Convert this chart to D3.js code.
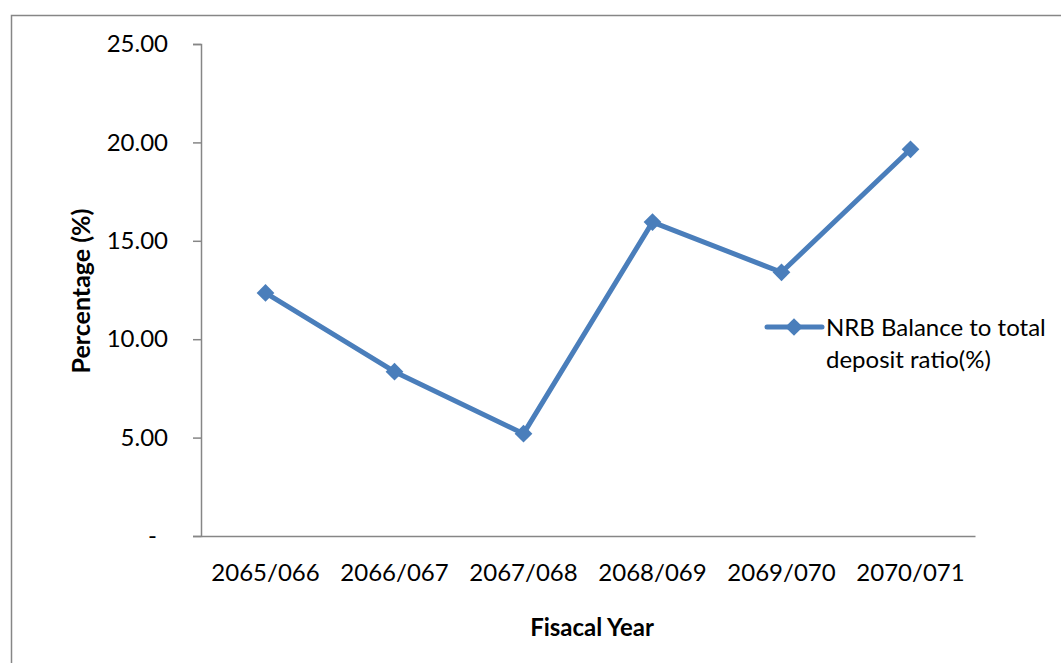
<!DOCTYPE html>
<html>
<head>
<meta charset="utf-8">
<script src="https://cdn.jsdelivr.net/npm/d3@7"></script>
<style>
  html, body { margin: 0; padding: 0; background: #fff; }
  svg { display: block; font-family: Lato, "Open Sans", sans-serif; }
</style>
</head>
<body>
<svg id="chart" width="1061" height="663"></svg>
<script>
// Fiscal years on the category axis
const fiscalYears = ["2065/066", "2066/067", "2067/068", "2068/069", "2069/070", "2070/071"];
// NRB balance to total deposit ratio, percent
const ratioValues = [12.35, 8.35, 5.20, 15.95, 13.40, 19.65];
const seriesName = ["NRB Balance to total", "deposit ratio(%)"];
const yTicks = [0, 5, 10, 15, 20, 25];

const svg = d3.select("#chart");
const blue = "#4a7ebb";
const axisGrey = "#868686";
const fontStack = "Lato, 'Open Sans', sans-serif";

// outer chart frame
svg.append("rect")
  .attr("x", 11.5).attr("y", 15.5)
  .attr("width", 1100).attr("height", 700)
  .attr("fill", "none").attr("stroke", axisGrey).attr("stroke-width", 1.5);

const plot = { left: 201, right: 975, top: 44, bottom: 536 };

const x = d3.scaleBand().domain(fiscalYears).range([plot.left, plot.right]);
const y = d3.scaleLinear().domain([0, 25]).range([plot.bottom, plot.top]);

// y axis
const yAxis = d3.axisLeft(y)
  .tickValues(yTicks)
  .tickSize(8)
  .tickFormat(d => d === 0 ? "-" : d3.format(".2f")(d));
const gy = svg.append("g").attr("transform", `translate(${plot.left},0)`).call(yAxis);
gy.select(".domain").attr("stroke", axisGrey).attr("stroke-width", 1.5);
gy.selectAll(".tick line").attr("stroke", axisGrey).attr("stroke-width", 1.5);
gy.selectAll(".tick text")
  .attr("x", d => d === 0 ? -44 : -33).attr("font-size", 24).attr("fill", "#000")
  .style("font-family", fontStack);

// x axis
const xAxis = d3.axisBottom(x).tickSize(0).tickSizeOuter(0);
const gx = svg.append("g").attr("transform", `translate(0,${plot.bottom})`).call(xAxis);
gx.select(".domain").attr("stroke", axisGrey).attr("stroke-width", 1.5);
gx.selectAll(".tick text")
  .attr("y", 28).attr("dy", "0.71em").attr("font-size", 24).attr("fill", "#000")
  .style("font-family", fontStack);

// axis titles
svg.append("text")
  .attr("transform", `translate(90,291) rotate(-90)`)
  .attr("text-anchor", "middle")
  .attr("font-size", 25).attr("font-weight", "bold")
  .text("Percentage (%)");
svg.append("text")
  .attr("x", 592).attr("y", 636)
  .attr("text-anchor", "middle")
  .attr("font-size", 24).attr("font-weight", "bold")
  .text("Fisacal Year");

// series line
const cx = d => x(d) + x.bandwidth() / 2;
const line = d3.line().x((d, i) => cx(fiscalYears[i])).y(d => y(d));
svg.append("path")
  .datum(ratioValues)
  .attr("d", line)
  .attr("fill", "none").attr("stroke", blue)
  .attr("stroke-width", 5).attr("stroke-linejoin", "round");

const diamond = d3.symbol().type(d3.symbolDiamond2).size(200);
svg.append("g").selectAll("path")
  .data(ratioValues)
  .join("path")
  .attr("d", diamond)
  .attr("transform", (d, i) => `translate(${cx(fiscalYears[i])},${y(d)})`)
  .attr("fill", blue);

// legend
const lg = svg.append("g").attr("transform", "translate(767,327)");
lg.append("line").attr("x1", 0).attr("x2", 55).attr("y1", 0).attr("y2", 0)
  .attr("stroke", blue).attr("stroke-width", 5).attr("stroke-linecap", "round");
lg.append("path").attr("d", diamond).attr("transform", "translate(27,0)").attr("fill", blue);
lg.selectAll("text.legend")
  .data(seriesName)
  .join("text")
  .attr("class", "legend")
  .attr("x", 59).attr("y", (d, i) => 9 + i * 32)
  .attr("font-size", 24).attr("fill", "#000")
  .text(d => d);
</script>
</body>
</html>
